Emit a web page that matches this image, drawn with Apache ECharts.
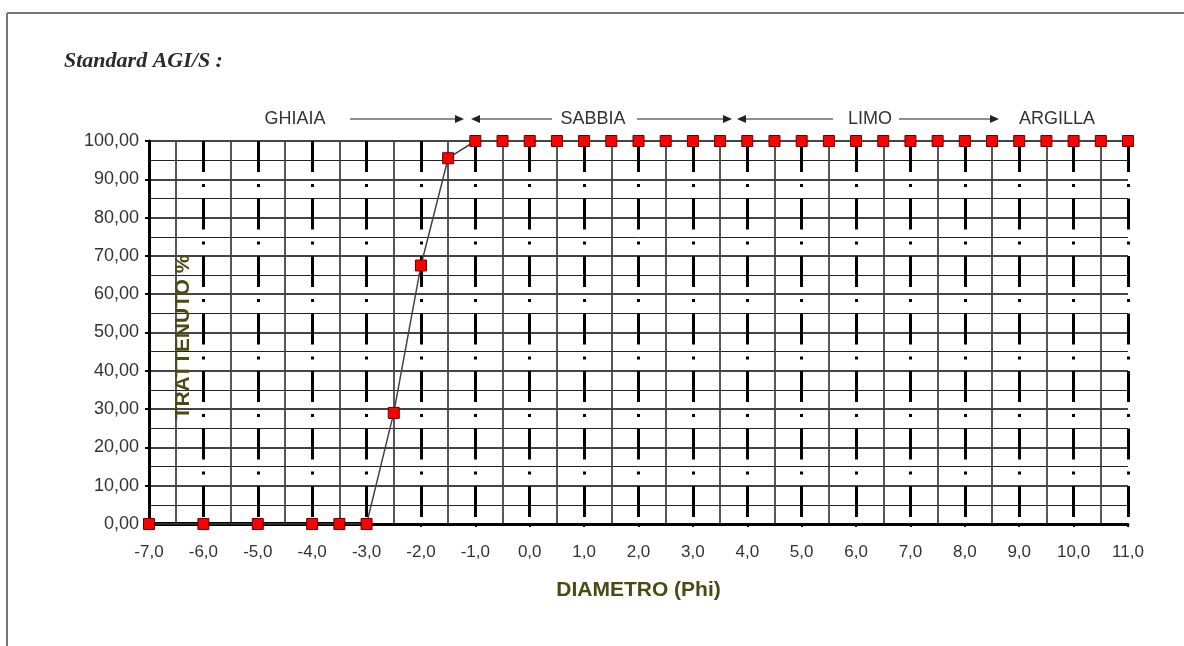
<!DOCTYPE html>
<html>
<head>
<meta charset="utf-8">
<script src="https://cdn.jsdelivr.net/npm/echarts@6/dist/echarts.min.js"></script>
<style>
html,body{margin:0;padding:0;background:#fff;}
#chart{width:1184px;height:646px;}
</style>
</head>
<body>
<div id="chart"></div>
<script>
// Diameter (Phi) values of the sieve points
const diameterPhi = [-7, -6, -5, -4, -3.5, -3, -2.5, -2, -1.5, -1, -0.5, 0, 0.5, 1, 1.5, 2, 2.5, 3, 3.5, 4, 4.5, 5, 5.5, 6, 6.5, 7, 7.5, 8, 8.5, 9, 9.5, 10, 10.5, 11];
// Cumulative retained percentage
const retainedPct = [0, 0, 0, 0, 0, 0, 29.0, 67.5, 95.5, 100, 100, 100, 100, 100, 100, 100, 100, 100, 100, 100, 100, 100, 100, 100, 100, 100, 100, 100, 100, 100, 100, 100, 100, 100];
// Class labels along the top
const classLabels = ['GHIAIA', 'SABBIA', 'LIMO', 'ARGILLA'];
const titleText = 'Standard AGI/S :';
const xAxisName = 'DIAMETRO (Phi)';
const yAxisName = 'TRATTENUTO %';

const seriesData = diameterPhi.map((x, i) => [x, retainedPct[i]]);
const zeroPts = seriesData.filter(p => p[1] === 0);
const zeroSpan = [[{coord: zeroPts[0]}, {coord: zeroPts[zeroPts.length - 1]}]];

const chart = echarts.init(document.getElementById('chart'), null, {renderer: 'canvas'});
const txtColor = '#333';
const nameColor = '#4a4a12';
const arrowColor = '#222';

function tri(points) {
  return {type: 'polygon', shape: {points: points}, style: {fill: arrowColor}, z: 10};
}
function seg(x1, x2, y) {
  return {type: 'line', shape: {x1: x1, y1: y, x2: x2, y2: y}, style: {stroke: arrowColor, lineWidth: 1.2}, z: 10};
}

const option = {
  backgroundColor: '#fff',
  animation: false,
  grid: {left: 149, right: 56, top: 141, bottom: 122, containLabel: false},
  xAxis: {
    type: 'value', min: -7, max: 11, interval: 1,
    name: xAxisName, nameLocation: 'middle', nameGap: 56,
    nameTextStyle: {fontFamily: 'Liberation Sans, Arial', fontWeight: 'bold', fontSize: 21, color: nameColor},
    axisLine: {show: true, onZero: false, lineStyle: {color: '#000', width: 3, type: [6, 2]}},
    axisTick: {show: true, length: 3, inside: false, lineStyle: {color: '#000', width: 2}},
    axisLabel: {margin: 20, fontFamily: 'Liberation Sans, Arial', fontSize: 17, color: txtColor,
      formatter: v => v.toFixed(1).replace('.', ',')},
    splitLine: {show: true, lineStyle: {color: '#000', width: 3, type: [31, 12, 3, 11.5]}},
    minorTick: {show: false, splitNumber: 2},
    minorSplitLine: {show: true, lineStyle: {color: '#444', width: 1.8}}
  },
  yAxis: {
    type: 'value', min: 0, max: 100, interval: 10,
    axisLine: {show: true, onZero: false, lineStyle: {color: '#000', width: 3}},
    axisTick: {show: true, length: 4, lineStyle: {color: '#000', width: 2}},
    axisLabel: {margin: 10, fontFamily: 'Liberation Sans, Arial', fontSize: 18, color: txtColor,
      formatter: v => v.toFixed(2).replace('.', ',')},
    splitLine: {show: true, lineStyle: {color: '#444', width: 2}},
    minorTick: {show: false, splitNumber: 2},
    minorSplitLine: {show: true, lineStyle: {color: '#222', width: 1}}
  },
  series: [{
    type: 'line',
    data: seriesData,
    symbol: 'rect',
    symbolSize: 11,
    itemStyle: {color: '#ff0000', borderColor: '#600', borderWidth: 1},
    lineStyle: {color: '#444', width: 1.5},
    z: 5,
    markLine: {
      silent: true, symbol: 'none', label: {show: false},
      lineStyle: {color: '#000', width: 4, type: 'solid'},
      data: zeroSpan
    }
  }],
  graphic: [
    {type: 'line', shape: {x1: 7, y1: 13, x2: 1184, y2: 13}, style: {stroke: '#777', lineWidth: 2}},
    {type: 'line', shape: {x1: 7, y1: 13, x2: 7, y2: 646}, style: {stroke: '#777', lineWidth: 2}},
    {type: 'text', left: 64, top: 50, style: {text: titleText, font: 'italic bold 22px "Liberation Serif", serif', fill: '#2a2a2a'}},
    {type: 'text', x: 295, y: 119, style: {text: classLabels[0], font: '18px "Liberation Sans", Arial', fill: txtColor, textAlign: 'center', textVerticalAlign: 'middle'}},
    {type: 'text', x: 593, y: 119, style: {text: classLabels[1], font: '18px "Liberation Sans", Arial', fill: txtColor, textAlign: 'center', textVerticalAlign: 'middle'}},
    {type: 'text', x: 870, y: 119, style: {text: classLabels[2], font: '18px "Liberation Sans", Arial', fill: txtColor, textAlign: 'center', textVerticalAlign: 'middle'}},
    {type: 'text', x: 1057, y: 119, style: {text: classLabels[3], font: '18px "Liberation Sans", Arial', fill: txtColor, textAlign: 'center', textVerticalAlign: 'middle'}},
    seg(350, 457, 119), tri([[455, 115], [464, 119], [455, 123]]),
    tri([[480, 115], [471, 119], [480, 123]]), seg(479, 552, 119),
    seg(637, 725, 119), tri([[723, 115], [732, 119], [723, 123]]),
    tri([[746, 115], [737, 119], [746, 123]]), seg(745, 833, 119),
    seg(899, 992, 119), tri([[990, 115], [999, 119], [990, 123]]),
    {type: 'text', x: 183, y: 337, rotation: Math.PI / 2,
      style: {text: yAxisName, font: 'bold 21px "Liberation Sans", Arial', fill: nameColor, textAlign: 'center', textVerticalAlign: 'middle'}, z: 20}
  ]
};
chart.setOption(option);
</script>
</body>
</html>
